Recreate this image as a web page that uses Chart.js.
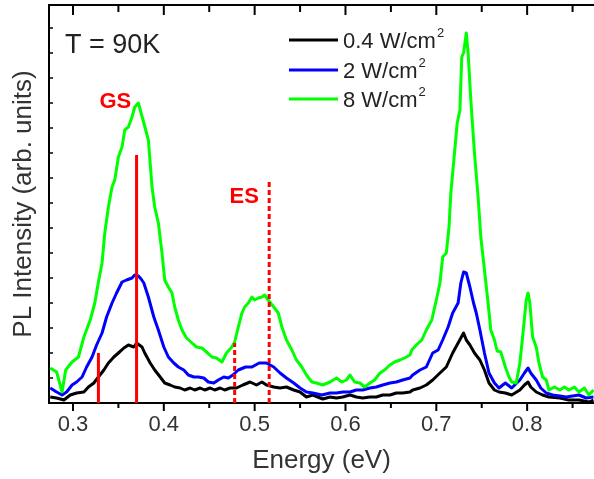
<!DOCTYPE html>
<html>
<head>
<meta charset="utf-8">
<script src="https://cdn.jsdelivr.net/npm/chart.js@4"></script>
<style>
  html, body { margin: 0; padding: 0; background: #fff; }
  #wrap { width: 594px; height: 479px; }
</style>
</head>
<body>
<div id="wrap"><canvas id="pl"></canvas></div>
<script>
// [energy (eV), PL intensity (arb. units)]
const low = [
  [0.275, 6], [0.282, 5], [0.290, 3], [0.297, 8], [0.304, 10], [0.312, 11], [0.317, 16], [0.323, 20],
  [0.328, 26], [0.334, 33], [0.339, 40], [0.345, 46], [0.350, 50], [0.356, 55], [0.361, 58], [0.367, 56],
  [0.370, 60], [0.376, 56], [0.379, 50], [0.385, 40], [0.390, 33], [0.396, 26], [0.401, 20], [0.407, 18],
  [0.412, 16], [0.418, 15], [0.423, 13], [0.429, 15], [0.434, 13], [0.440, 15], [0.445, 13], [0.451, 15],
  [0.456, 13], [0.462, 15], [0.467, 13], [0.473, 15], [0.480, 15], [0.487, 18], [0.495, 21], [0.502, 18],
  [0.508, 21], [0.513, 18], [0.521, 16], [0.528, 15], [0.535, 16], [0.543, 13], [0.550, 11], [0.557, 6],
  [0.564, 8], [0.575, 4], [0.583, 6], [0.590, 5], [0.597, 6], [0.605, 8], [0.612, 6], [0.619, 5],
  [0.627, 6], [0.634, 6], [0.641, 8], [0.649, 8], [0.656, 10], [0.663, 10], [0.671, 11], [0.674, 13],
  [0.682, 15], [0.689, 18], [0.696, 23], [0.704, 30], [0.711, 36], [0.718, 50], [0.724, 60], [0.727, 65],
  [0.730, 70], [0.733, 63], [0.737, 58], [0.742, 50], [0.748, 43], [0.753, 33], [0.758, 20], [0.764, 13],
  [0.769, 11], [0.776, 10], [0.783, 8], [0.792, 13], [0.797, 18], [0.801, 21], [0.804, 16], [0.810, 11],
  [0.817, 8], [0.824, 6], [0.836, 5], [0.846, 3], [0.857, 3], [0.868, 1], [0.873, 3]
]

const mid = [
  [0.275, 15], [0.282, 11], [0.288, 8], [0.293, 11], [0.299, 18], [0.304, 21], [0.310, 26], [0.315, 36],
  [0.321, 46], [0.326, 58], [0.332, 70], [0.337, 86], [0.343, 100], [0.348, 110], [0.354, 121], [0.359, 123],
  [0.365, 125], [0.368, 128], [0.372, 127], [0.375, 124], [0.378, 120], [0.383, 106], [0.389, 86], [0.394, 73],
  [0.400, 56], [0.405, 46], [0.411, 40], [0.416, 36], [0.422, 33], [0.427, 28], [0.433, 26], [0.438, 26],
  [0.444, 25], [0.449, 21], [0.455, 20], [0.460, 23], [0.466, 26], [0.471, 25], [0.476, 28], [0.482, 33],
  [0.490, 36], [0.497, 36], [0.505, 40], [0.513, 40], [0.521, 36], [0.528, 30], [0.535, 25], [0.543, 20],
  [0.550, 15], [0.557, 11], [0.564, 10], [0.574, 8], [0.583, 10], [0.590, 10], [0.597, 11], [0.605, 11],
  [0.612, 13], [0.619, 13], [0.627, 15], [0.634, 16], [0.641, 18], [0.649, 20], [0.656, 21], [0.663, 23],
  [0.671, 25], [0.674, 28], [0.682, 33], [0.689, 36], [0.696, 50], [0.702, 53], [0.707, 63], [0.713, 76],
  [0.718, 90], [0.724, 100], [0.727, 120], [0.730, 131], [0.733, 130], [0.737, 116], [0.741, 100], [0.744, 90],
  [0.748, 73], [0.753, 50], [0.758, 30], [0.764, 20], [0.769, 15], [0.776, 20], [0.783, 15], [0.792, 23],
  [0.797, 30], [0.801, 35], [0.804, 30], [0.810, 23], [0.815, 15], [0.821, 10], [0.828, 8], [0.836, 7],
  [0.843, 6], [0.850, 7], [0.857, 8], [0.865, 5], [0.873, 6]
]

const high = [
  [0.275, 35], [0.282, 31], [0.288, 11], [0.292, 33], [0.299, 41], [0.306, 46], [0.312, 66], [0.319, 83],
  [0.324, 100], [0.328, 121], [0.332, 140], [0.335, 170], [0.339, 196], [0.343, 216], [0.346, 223], [0.350, 246],
  [0.354, 256], [0.357, 273], [0.361, 276], [0.365, 286], [0.368, 296], [0.372, 300], [0.375, 290], [0.378, 280],
  [0.383, 263], [0.387, 216], [0.390, 196], [0.394, 180], [0.398, 150], [0.401, 123], [0.405, 116], [0.409, 110],
  [0.412, 96], [0.416, 83], [0.420, 73], [0.425, 65], [0.431, 60], [0.436, 56], [0.442, 55], [0.447, 51],
  [0.453, 46], [0.458, 45], [0.464, 41], [0.469, 50], [0.475, 56], [0.478, 61], [0.482, 76], [0.486, 90],
  [0.489, 96], [0.493, 100], [0.497, 106], [0.500, 103], [0.504, 105], [0.508, 106], [0.511, 108], [0.515, 103],
  [0.521, 96], [0.526, 90], [0.530, 76], [0.535, 63], [0.541, 53], [0.546, 43], [0.552, 36], [0.557, 28],
  [0.563, 21], [0.568, 20], [0.575, 18], [0.583, 21], [0.590, 25], [0.596, 21], [0.601, 23], [0.605, 28],
  [0.610, 21], [0.616, 20], [0.621, 16], [0.627, 20], [0.632, 23], [0.638, 30], [0.643, 33], [0.649, 38],
  [0.654, 41], [0.660, 43], [0.665, 45], [0.671, 48], [0.673, 53], [0.678, 58], [0.684, 63], [0.689, 73],
  [0.695, 83], [0.700, 103], [0.704, 120], [0.707, 146], [0.711, 150], [0.714, 176], [0.716, 210], [0.720, 250],
  [0.723, 280], [0.726, 293], [0.728, 346], [0.730, 350], [0.733, 370], [0.735, 350], [0.738, 303], [0.742, 250],
  [0.746, 206], [0.749, 166], [0.753, 133], [0.757, 100], [0.760, 73], [0.764, 63], [0.767, 52], [0.771, 51],
  [0.776, 36], [0.780, 26], [0.783, 21], [0.788, 20], [0.792, 40], [0.795, 66], [0.799, 103], [0.801, 110],
  [0.803, 100], [0.806, 66], [0.810, 56], [0.813, 40], [0.817, 26], [0.821, 23], [0.824, 13], [0.830, 16],
  [0.836, 13], [0.841, 16], [0.846, 13], [0.852, 16], [0.857, 11], [0.863, 15], [0.868, 8], [0.873, 13]
]

const seriesLabels = ['0.4 W/cm', '2 W/cm', '8 W/cm']
const seriesColors = ['#000000', '#0000ff', '#00ff00']

// ground state (solid) and excited state (dashed) marker lines
const gsEnergy = [0.328, 0.370]
const gsHeight = [50, 248]
const esEnergy = [0.478, 0.516]
const esHeight = [60, 223]

const xMajorTicks = [0.3, 0.4, 0.5, 0.6, 0.7, 0.8]
const xMinorTicks = [0.35, 0.45, 0.55, 0.65, 0.75, 0.85]
const yMinorTicks = [25, 50, 75, 100, 125, 150, 175, 200, 225, 250, 275, 300, 325, 350, 375]

const toPoints = (rows) => rows.map(([x, y]) => ({ x, y }))

const datasets = []

gsEnergy.forEach((e, i) => {
  datasets.push({
    label: 'GS',
    data: [{ x: e, y: 0 }, { x: e, y: gsHeight[i] }],
    borderColor: '#ff0000',
    borderWidth: 3,
    borderCapStyle: 'butt',
    order: 0
  })
})

esEnergy.forEach((e, i) => {
  datasets.push({
    label: 'ES',
    data: [{ x: e, y: 0 }, { x: e, y: esHeight[i] }],
    borderColor: '#ff0000',
    borderWidth: 3,
    borderDash: [5, 3],
    borderCapStyle: 'butt',
    order: 0
  })
})

;[low, mid, high].forEach((rows, i) => {
  datasets.push({
    label: seriesLabels[i],
    data: toPoints(rows),
    borderColor: seriesColors[i],
    borderWidth: 3,
    order: 3 - i
  })
})

const line = (ctx, x0, y0, x1, y1) => {
  ctx.beginPath()
  ctx.moveTo(x0, y0)
  ctx.lineTo(x1, y1)
  ctx.stroke()
}

const frameAndNotes = {
  id: 'frameAndNotes',
  afterDraw (chart) {
    const { ctx, chartArea: area } = chart
    const { x, y } = chart.scales
    ctx.save()
    ctx.strokeStyle = '#000'
    ctx.lineWidth = 2
    line(ctx, area.left, area.top, area.right, area.top)

    xMajorTicks.forEach((v) => {
      const px = x.getPixelForValue(v)
      line(ctx, px, area.bottom, px, area.bottom + 8)
      line(ctx, px, area.top, px, area.top + 10)
    })
    xMinorTicks.forEach((v) => {
      const px = x.getPixelForValue(v)
      line(ctx, px, area.bottom, px, area.bottom + 5)
      line(ctx, px, area.top, px, area.top + 7)
    })
    ctx.lineWidth = 1.5
    yMinorTicks.forEach((v) => {
      const py = y.getPixelForValue(v)
      line(ctx, area.left, py, area.left + 4, py)
    })

    ctx.textBaseline = 'alphabetic'
    ctx.fillStyle = '#222'
    ctx.font = '27px "Liberation Sans", Arial, sans-serif'
    ctx.textAlign = 'left'
    ctx.fillText('T = 90K', area.left + 16, 53)

    // legend
    const rowsY = [40, 70, 99]
    seriesLabels.forEach((label, i) => {
      ctx.strokeStyle = seriesColors[i]
      ctx.lineWidth = 3
      line(ctx, 289, rowsY[i], 338, rowsY[i])
      ctx.font = '22px "Liberation Sans", Arial, sans-serif'
      ctx.fillStyle = '#222'
      ctx.fillText(label, 343, rowsY[i] + 8)
      const w = ctx.measureText(label).width
      ctx.font = '13px "Liberation Sans", Arial, sans-serif'
      ctx.fillText('2', 343 + w + 1, rowsY[i] - 3)
    })

    ctx.fillStyle = '#ff0000'
    ctx.textAlign = 'center'
    ctx.font = 'bold 22px "Liberation Sans", Arial, sans-serif'
    ctx.fillText('GS', x.getPixelForValue(0.3467), y.getPixelForValue(295))
    ctx.fillText('ES', x.getPixelForValue(0.4885), y.getPixelForValue(200))
    ctx.restore()
  }
}

Chart.defaults.font.family = '"Liberation Sans", Arial, sans-serif'

new Chart(document.getElementById('pl'), { // eslint-disable-line
  type: 'line',
  data: { datasets },
  options: {
    responsive: true,
    maintainAspectRatio: false,
    animation: false,
    devicePixelRatio: 1,
    layout: { padding: { top: 5, right: 0, bottom: 0, left: 0 } },
    elements: {
      point: { radius: 0 },
      line: { tension: 0, borderJoinStyle: 'round' }
    },
    plugins: {
      legend: { display: false },
      tooltip: { enabled: false }
    },
    scales: {
      x: {
        type: 'linear',
        min: 0.2736,
        max: 0.8736,
        afterBuildTicks: (s) => { s.ticks = xMajorTicks.map((v) => ({ value: v })) },
        afterFit: (s) => { s.height = 76 },
        grid: { display: false, drawTicks: false },
        border: { display: true, color: '#000', width: 2 },
        ticks: {
          padding: 9,
          color: '#333',
          font: { size: 22 },
          maxRotation: 0,
          autoSkip: false,
          callback: (v) => v.toFixed(1)
        },
        title: {
          display: true,
          text: 'Energy (eV)',
          color: '#333',
          font: { size: 26 },
          padding: { top: 0, bottom: 3 }
        }
      },
      y: {
        type: 'linear',
        min: 0,
        max: 398,
        afterFit: (s) => { s.width = 49 },
        grid: { display: false, drawTicks: false },
        border: { display: true, color: '#000', width: 2 },
        ticks: { display: false },
        title: {
          display: true,
          text: 'PL Intensity (arb. units)',
          color: '#333',
          font: { size: 26 },
          padding: { top: 8, bottom: 0 }
        }
      }
    }
  },
  plugins: [frameAndNotes]
})
</script>
</body>
</html>
